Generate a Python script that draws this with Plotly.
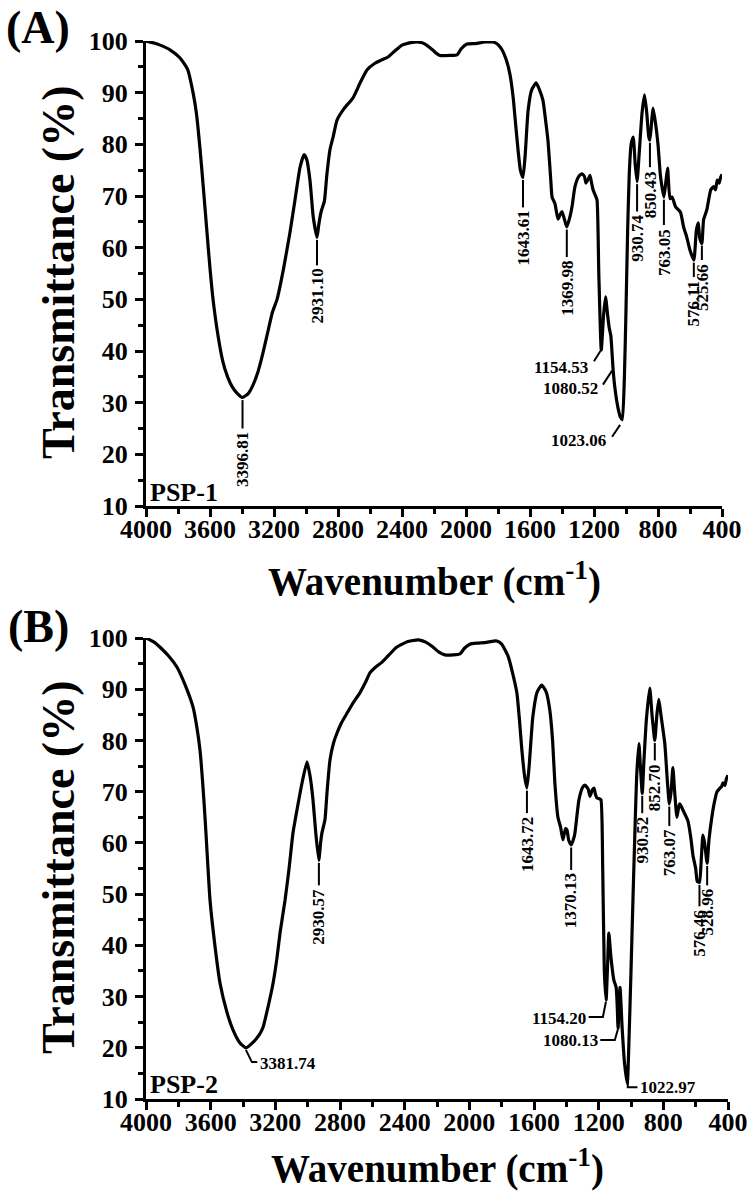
import plotly.graph_objects as go

FONT = "Liberation Serif"
W, H = 750, 1192

# ---- PSP-1 spectrum (wavenumber cm-1, transmittance %) ----
wn_a = [4000, 3950, 3912, 3850, 3787, 3740, 3706, 3685, 3662, 3640, 3619, 3600, 3581, 3550,
        3520, 3490, 3460, 3430, 3397, 3360, 3330, 3300, 3270, 3240, 3210, 3181, 3140, 3100,
        3070, 3037, 3012, 2995, 2975, 2955, 2931, 2920, 2905, 2885, 2870, 2850, 2830, 2806,
        2760, 2706, 2660, 2619, 2569, 2530, 2487, 2440, 2400, 2360, 2319, 2280, 2256, 2210,
        2180, 2162, 2100, 2056, 2030, 1994, 1940, 1881, 1831, 1800, 1775, 1750, 1725, 1705,
        1694, 1675, 1660, 1644, 1630, 1612, 1590, 1562, 1540, 1519, 1500, 1487, 1470, 1462,
        1444, 1425, 1410, 1400, 1385, 1370, 1350, 1337, 1319, 1295, 1275, 1260, 1250, 1235,
        1225, 1215, 1206, 1190, 1181, 1170, 1154.5, 1140, 1128, 1115, 1105, 1095, 1080.5,
        1070, 1050, 1035, 1023, 1010, 1000, 990, 980, 968, 955, 942, 930.7, 918, 900, 884,
        870, 858, 850.4, 838, 831, 815, 800, 785, 763, 750, 740, 725, 712, 690, 660, 640,
        620, 600, 576, 560, 548, 540, 526, 515, 495, 470, 452, 440, 430, 418, 410, 400]
t_a = [100, 99.6, 99.2, 98.3, 96.7, 94.5, 90, 86, 79, 71, 63, 56, 50, 43,
       38, 35, 33, 31.8, 31, 31.8, 33.5, 36, 39.5, 43.5, 47.5, 50, 56, 63,
       69, 75.6, 78, 77, 73, 66, 62, 64.5, 67, 69, 74, 79, 81.5, 84.7,
       87, 89, 92, 94.4, 95.7, 96.3, 96.9, 98.2, 99.2, 99.6, 99.8, 99.7, 99.4, 98.3,
       97.5, 97.2, 97.2, 97.3, 98.5, 99.4, 99.5, 99.8, 99.8, 99.3, 98.3, 96.5, 93.5, 89,
       85.3, 79, 75, 73.6, 78, 86.5, 90.5, 91.9, 90.5, 88.5, 84, 80.5, 73, 69.8,
       68.5, 65.5, 66.5, 67, 65.5, 64, 66, 68, 71.8, 73.8, 74.3, 73.8, 72.5, 73.3,
       74, 72.5, 71.2, 70, 69.2, 55, 40.2, 47, 50.5, 47, 44.5, 43, 36.4,
       33, 29, 27.2, 26.7, 35, 48, 63, 74, 80, 81.4, 76, 72.8, 78, 86, 89.6,
       86, 81.5, 80.8, 85, 87, 84, 80, 74, 69.8, 73, 75.4, 69.5, 69.8, 67.9, 66.9, 64,
       62, 59.5, 57.6, 63.4, 64.8, 62, 60.8, 65.4, 67.3, 71.2, 71.8, 71.2, 73.1, 72.5, 73.5, 74.2]

# ---- PSP-2 spectrum ----
wn_b = [4000, 3950, 3913, 3860, 3808, 3760, 3709, 3685, 3666, 3650, 3635, 3620, 3604, 3570,
        3542, 3500, 3462, 3420, 3382, 3340, 3300, 3276, 3245, 3214, 3190, 3171, 3140, 3115,
        3091, 3060, 3035, 3004, 2985, 2967, 2950, 2931, 2920, 2912, 2893, 2880, 2862, 2840,
        2819, 2790, 2757, 2720, 2677, 2640, 2615, 2584, 2540, 2503, 2450, 2380, 2330, 2306,
        2270, 2231, 2190, 2151, 2100, 2058, 2030, 1996, 1950, 1904, 1850, 1830, 1800, 1761,
        1735, 1706, 1690, 1675, 1658, 1644, 1630, 1607, 1580, 1552, 1525, 1503, 1485, 1471,
        1452, 1435, 1421, 1405, 1396, 1385, 1370, 1355, 1347, 1322, 1300, 1285, 1265, 1254,
        1240, 1229, 1220, 1211, 1195, 1186, 1175, 1165, 1154, 1145, 1137, 1125, 1106, 1092,
        1085, 1080, 1068, 1055, 1040, 1023, 1012, 1000, 988, 976, 965, 951, 942, 930.5,
        920, 905, 884, 870, 852.7, 840, 828, 815, 791, 775, 763, 752, 741, 730, 716, 705,
        698, 680, 648, 630, 617, 600, 590, 576.5, 565, 555, 545, 529, 518, 500, 485, 469,
        450, 440, 431, 420, 410, 400]
t_b = [100, 99.2, 98.2, 96.5, 94.3, 91, 86.5, 82.5, 78.1, 72, 65, 57, 48.8, 39,
       32.6, 27, 23.5, 21, 20, 21, 22.5, 24, 28, 32.6, 37.5, 42.4, 48.8, 55,
       61.9, 67.5, 71.7, 75.8, 73, 68.4, 62, 56.6, 60, 61.9, 64.5, 70, 76.2, 79.5,
       81.4, 83.5, 85.3, 87.3, 89.3, 91.5, 93.2, 94.2, 95.3, 96.5, 98.2, 99.3, 99.6, 99.6,
       99.2, 98.4, 97.3, 96.7, 96.7, 96.9, 98, 98.8, 99, 99.1, 99.4, 99.4, 98.8, 96.5,
       93.5, 89.3, 84, 78.1, 73, 70.7, 75, 84.7, 89.5, 90.8, 89.5, 86.1, 80, 71.7,
       65, 63, 60.6, 62.8, 62.5, 60.5, 59.6, 60.8, 61.9, 68.4, 70.8, 71.3, 70.5, 69.1,
       70.3, 70.7, 69.5, 68.8, 68.6, 68.4, 55, 35, 29.3, 36, 42.4, 38, 33.2, 31.8,
       28, 23.8, 31.8, 24, 17, 13, 22, 35, 48.8, 62, 73, 79.4, 75, 69.7,
       76, 84, 90.2, 85, 80, 85, 88, 85, 79.4, 72, 67.6, 70, 74.7, 70, 65, 67,
       67.6, 66.5, 64.3, 61, 57.6, 55, 52.5, 52.3, 57, 61.5, 60, 56, 60.5, 65, 67.8, 69.9,
       70.7, 71, 71.7, 71.2, 72.5, 73.2]

# ---- peak labels ----
peaks_a = ["3396.81", "2931.10", "1643.61", "1369.98", "1154.53", "1080.52", "1023.06",
           "930.74", "850.43", "763.05", "576.11", "525.66"]
peak_t_a = [31.0, 62.0, 73.6, 64.0, 40.2, 36.4, 26.7, 72.8, 80.8, 69.8, 57.6, 60.9]

peaks_b = ["3381.74", "2930.57", "1643.72", "1370.13", "1154.20", "1080.13", "1022.97",
           "930.52", "852.70", "763.07", "576.46", "528.96"]
peak_t_b = [20.0, 56.6, 70.7, 59.6, 29.3, 23.8, 13.0, 69.7, 80.0, 67.6, 52.3, 56.0]

# label placement: ("v", leader px) or ("h", leader path, text point, xanchor)
place_a = [("v", 31), ("v", 28), ("v", 30), ("v", 30),
           ("h", [(1160, 40.0), (1200, 38.0)], (1222, 36.8), "right"),
           ("h", [(1087, 36.2), (1144, 33.5)], (1160, 32.7), "right"),
           ("h", [(1037, 25.7), (1087, 23.4)], (1110, 22.6), "right"),
           ("v", 30), ("v", 27), ("v", 28), ("v", 17), ("v", 17)]
place_b = [("h", [(3382, 19.6), (3345, 17.2), (3312, 17.2)], (3308, 17.0), "left"),
           ("v", 25), ("v", 25), ("v", 25),
           ("h", [(1155, 29.0), (1174, 26.0), (1262, 26.0)], (1266, 25.8), "right"),
           ("h", [(1081, 23.6), (1100, 21.5), (1190, 21.5)], (1194, 21.5), "right"),
           ("h", [(1020, 13.6), (1020, 12.3), (960, 12.3)], (955, 12.3), "left"),
           ("v", 20), ("v", 20), ("v", 22), ("v", 24), ("v", 22)]

dom_xa = [146 / W, 722 / W]
dom_ya = [1 - 506 / H, 1 - 41 / H]
dom_xb = [146 / W, 728 / W]
dom_yb = [1 - 1099 / H, 1 - 638 / H]

fig = go.Figure()
fig.add_trace(go.Scatter(x=wn_a, y=t_a, mode="lines",
                         line=dict(color="black", width=3.2, shape="spline", smoothing=0.5),
                         xaxis="x", yaxis="y", hoverinfo="skip"))
fig.add_trace(go.Scatter(x=wn_b, y=t_b, mode="lines",
                         line=dict(color="black", width=3.2, shape="spline", smoothing=0.5),
                         xaxis="x2", yaxis="y2", hoverinfo="skip"))

annotations = []
lfont = dict(family=FONT, size=17, color="black", weight="bold")


def add_labels(names, tvals, places, xa, ya, dom_y):
    px_per_unit = (dom_y[1] - dom_y[0]) * H / 90.0
    for name, tp, pl in zip(names, tvals, places):
        w = float(name)
        if pl[0] == "v":
            L = pl[1] / px_per_unit
            fig.add_trace(go.Scatter(x=[w, w], y=[tp - 0.5, tp - L], mode="lines",
                                     line=dict(color="black", width=2), xaxis=xa, yaxis=ya,
                                     hoverinfo="skip"))
            annotations.append(dict(x=w, y=tp - L - 0.3, xref=xa, yref=ya, text=name,
                                    textangle=-90, showarrow=False, xanchor="center",
                                    yanchor="top", font=lfont))
        else:
            path, tpt, anchor = pl[1], pl[2], pl[3]
            fig.add_trace(go.Scatter(x=[p[0] for p in path], y=[p[1] for p in path],
                                     mode="lines", line=dict(color="black", width=2),
                                     xaxis=xa, yaxis=ya, hoverinfo="skip"))
            annotations.append(dict(x=tpt[0], y=tpt[1], xref=xa, yref=ya, text=name,
                                    showarrow=False, xanchor=anchor, yanchor="middle",
                                    font=lfont))


add_labels(peaks_a, peak_t_a, place_a, "x", "y", dom_ya)
add_labels(peaks_b, peak_t_b, place_b, "x2", "y2", dom_yb)

tfont = dict(family=FONT, size=26, color="black", weight="bold")


def xaxis(dom, anchor):
    return dict(domain=dom, anchor=anchor, range=[4000, 400], tick0=400, dtick=400,
                automargin=False, ticklabelstandoff=-10,
                showline=True, linewidth=3, linecolor="black", ticks="outside", ticklen=8,
                tickwidth=3, tickcolor="black", showgrid=False, zeroline=False, tickfont=tfont,
                minor=dict(ticks="outside", ticklen=5, tickwidth=2.5, tickcolor="black", dtick=200))


def yaxis(dom, anchor):
    return dict(domain=dom, anchor=anchor, range=[10, 100], tick0=10, dtick=10,
                automargin=False, ticklabelstandoff=2,
                showline=True, linewidth=3, linecolor="black", ticks="outside", ticklen=8,
                tickwidth=3, tickcolor="black", showgrid=False, zeroline=False, tickfont=tfont,
                minor=dict(ticks="outside", ticklen=5, tickwidth=2.5, tickcolor="black", dtick=5))


big = dict(family=FONT, size=46, color="black", weight="bold")
xt = dict(family=FONT, size=39, color="black", weight="bold")
panel_text = dict(family=FONT, size=26, color="black", weight="bold")

for lab, cy, ycen, xcen, xtitle_y, tag, tag_y in [
        ("(A)", 27, 273, 434, 579, "PSP-1", 492),
        ("(B)", 627, 868, 437, 1166, "PSP-2", 1084)]:
    annotations.append(dict(x=38 / W, y=1 - cy / H, xref="paper", yref="paper", text=lab,
                            showarrow=False, xanchor="center", yanchor="middle", font=big))
    annotations.append(dict(x=58 / W, y=1 - ycen / H, xref="paper", yref="paper",
                            text="Transmittance (%)", textangle=-90, showarrow=False,
                            xanchor="center", yanchor="middle", font=big))
    annotations.append(dict(x=xcen / W, y=1 - xtitle_y / H, xref="paper", yref="paper",
                            text="Wavenumber (cm<sup>-1</sup>)", showarrow=False,
                            xanchor="center", yanchor="middle", font=xt))
    annotations.append(dict(x=148 / W, y=1 - tag_y / H, xref="paper", yref="paper", text=tag,
                            showarrow=False, xanchor="left", yanchor="middle", font=panel_text))

fig.update_layout(
    width=W, height=H, margin=dict(l=0, r=0, t=0, b=0, autoexpand=False),
    paper_bgcolor="white", plot_bgcolor="white", showlegend=False,
    xaxis=xaxis(dom_xa, "y"), yaxis=yaxis(dom_ya, "x"),
    xaxis2=xaxis(dom_xb, "y2"), yaxis2=yaxis(dom_yb, "x2"),
    annotations=annotations,
)

# the page body has a default 8px margin; drop it so the figure fills the window
fig.write_html("out.html", config={"displayModeBar": False},
               post_script="document.body.style.margin='0px';")
